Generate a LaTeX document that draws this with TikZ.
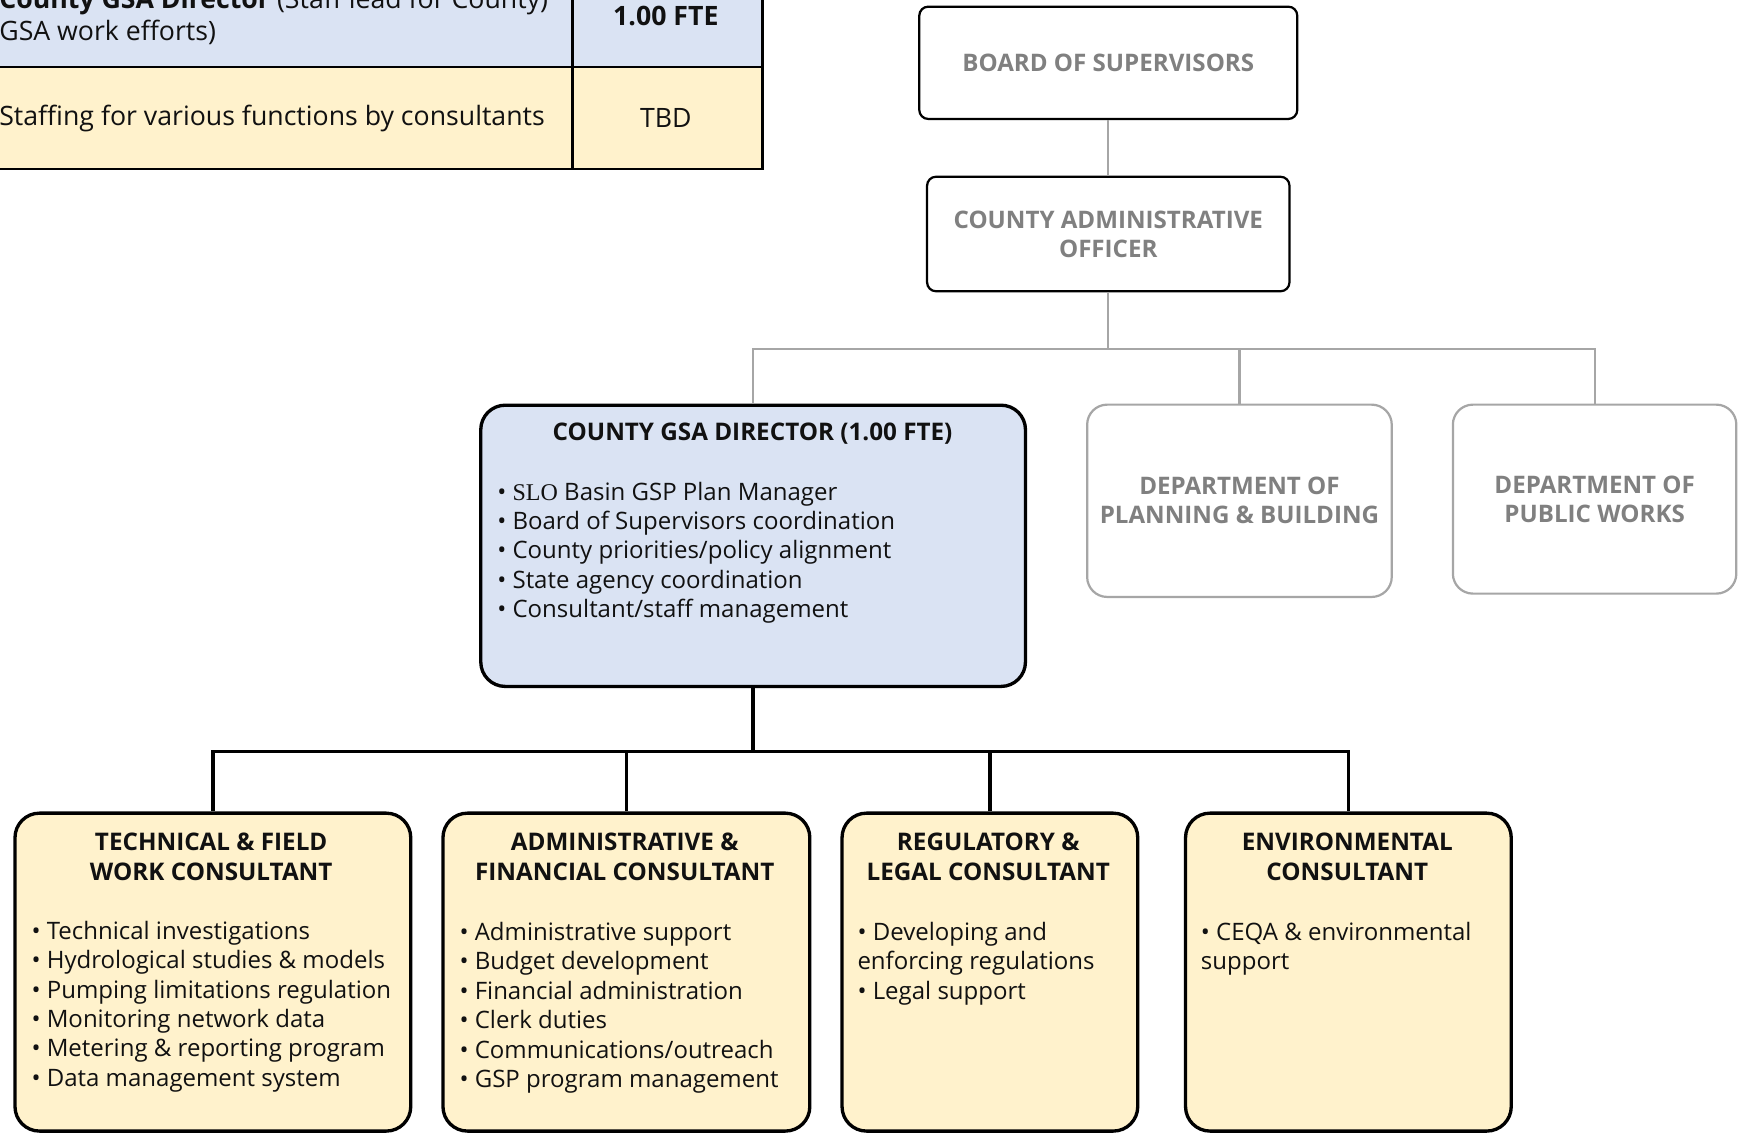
\documentclass[tikz,border=0pt]{standalone}
\usepackage{fontspec}
\usetikzlibrary{calc}
\setmainfont{Open Sans}
\newfontfamily\slofont{Liberation Serif}
\definecolor{dirblue}{HTML}{DAE3F3}
\definecolor{consyel}{HTML}{FFF2CC}
\definecolor{hdrgray}{HTML}{808080}
\definecolor{linegray}{HTML}{A6A6A6}
\definecolor{txt}{HTML}{111111}
\begin{document}
\begin{tikzpicture}[x=0.5pt,y=-0.5pt,
  topbox/.style={draw=black, line width=1pt, rounded corners=4pt, fill=white, anchor=north west, inner sep=0,
    text=hdrgray, font=\fontsize{10.85}{13}\selectfont\bfseries, align=center},
  deptbox/.style={draw=linegray, line width=1pt, rounded corners=9pt, fill=white, anchor=north west, inner sep=0,
    text=hdrgray, font=\fontsize{10.85}{13}\selectfont\bfseries, align=center},
  dirbox/.style={draw=black, line width=1.5pt, rounded corners=11pt, fill=dirblue, anchor=north west, inner sep=0},
  consbox/.style={draw=black, line width=1.5pt, rounded corners=11pt, fill=consyel, anchor=north west, inner sep=0},
  ttl/.style={text=txt, font=\fontsize{10.9}{13.5}\selectfont\bfseries, align=center, inner sep=0, anchor=north},
  bul/.style={text=txt, font=\fontsize{10.8}{13.25}\selectfont, align=left, inner sep=0, anchor=north west},
  cell/.style={draw=black, line width=1pt, anchor=north west, inner sep=0},
  tbl/.style={text=txt, font=\fontsize{12}{14}\selectfont, inner sep=0},
  glink/.style={draw=linegray, line width=1pt},
  blink/.style={draw=black, line width=1.5pt},
]
\useasboundingbox (0,0) rectangle (1568,1019);

% ---------- table (cut by the picture edge) ----------
\begin{scope}
\clip (0,0) rectangle (1568,1019);
\node[cell, fill=dirblue, minimum width=267pt, minimum height=59.5pt] (c11) at (-20,-60) {};
\node[cell, fill=dirblue, minimum width=85.5pt, minimum height=59.5pt] (c12) at (514,-60) {};
\node[cell, fill=consyel, minimum width=267pt, minimum height=46pt] (c21) at (-20,59) {};
\node[cell, fill=consyel, minimum width=85.5pt, minimum height=46pt] (c22) at (514,59) {};
\node[tbl, anchor=west] (t1) at (-1,1) {\textbf{County GSA Director} (Staff lead for County)};
\node[tbl, anchor=west] (t2) at (-1,29) {GSA work efforts)};
\node[tbl, font=\fontsize{12}{14}\selectfont\bfseries] (t3) at (599,14) {1.00 FTE};
\node[tbl, anchor=west] (t4) at (-1,107) {Staffing for various functions by consultants};
\node[tbl] (t5) at (599,106) {TBD};
\end{scope}

% ---------- upper boxes ----------
\node[topbox, minimum width=170pt, minimum height=50.5pt] (bos) at (826,5) {BOARD OF SUPERVISORS};
\node[topbox, minimum width=163pt, minimum height=51.5pt] (cao) at (833,158) {COUNTY ADMINISTRATIVE\\OFFICER};
\node[deptbox, minimum width=137pt, minimum height=86.5pt] (plan) at (977,363) {DEPARTMENT OF\\PLANNING \& BUILDING};
\node[deptbox, minimum width=127.5pt, minimum height=85pt] (pw) at (1306,363) {DEPARTMENT OF\\PUBLIC WORKS};

% ---------- director ----------
\node[dirbox, minimum width=245pt, minimum height=126.5pt] (dir) at (431,363) {};
\node[ttl] (dirt) at (677,380) {COUNTY GSA DIRECTOR (1.00 FTE)};
\node[bul] (dirb) at (447,433) {• {\slofont SLO} Basin GSP Plan Manager\\
• Board of Supervisors coordination\\
• County priorities/policy alignment\\
• State agency coordination\\
• Consultant/staff management};

% ---------- consultants ----------
\node[consbox, minimum width=178pt, minimum height=143pt] (k1) at (12,730) {};
\node[consbox, minimum width=165pt, minimum height=143pt] (k2) at (397,730) {};
\node[consbox, minimum width=133pt, minimum height=143pt] (k3) at (756,730) {};
\node[consbox, minimum width=146.5pt, minimum height=143pt] (k4) at (1065,730) {};

\node[ttl] (k1t) at (190,749) {TECHNICAL \& FIELD\\WORK CONSULTANT};
\node[ttl] (k2t) at (562,749) {ADMINISTRATIVE \&\\FINANCIAL CONSULTANT};
\node[ttl] (k3t) at (889,749) {REGULATORY \&\\LEGAL CONSULTANT};
\node[ttl] (k4t) at (1212,749) {ENVIRONMENTAL\\CONSULTANT};

\node[bul] (k1b) at (28,828) {• Technical investigations\\
• Hydrological studies \& models\\
• Pumping limitations regulation\\
• Monitoring network data\\
• Metering \& reporting program\\
• Data management system};
\node[bul] (k2b) at (413,829) {• Administrative support\\
• Budget development\\
• Financial administration\\
• Clerk duties\\
• Communications/outreach\\
• GSP program management};
\node[bul] (k3b) at (771,829) {• Developing and\\
enforcing regulations\\
• Legal support};
\node[bul] (k4b) at (1080,829) {• CEQA \& environmental\\
support};

% ---------- connectors ----------
\draw[glink] (bos.south) -- (cao.north);
\coordinate (j1) at ($(cao.south)+(0,51)$);
\draw[glink] (cao.south) -- (j1);
\draw[glink] (dir.north) |- (pw.north |- j1) -- (pw.north);
\draw[glink] (plan.north) -- (plan.north |- j1);

\coordinate (j2) at ($(dir.south)+(0,57)$);
\draw[blink] (dir.south) -- (j2);
\draw[blink] (k1.north) |- (k4.north |- j2) -- (k4.north);
\draw[blink] (k2.north) -- (k2.north |- j2);
\draw[blink] (k3.north) -- (k3.north |- j2);
\end{tikzpicture}
\end{document}
